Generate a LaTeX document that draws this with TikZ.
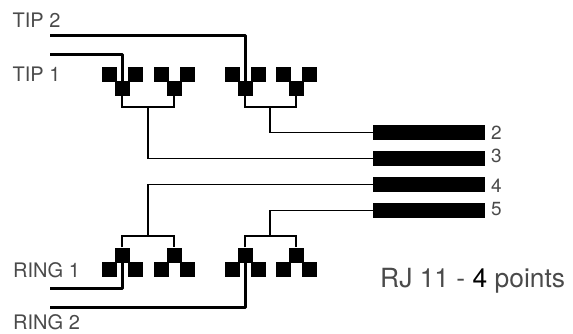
\documentclass[tikz,border=0pt]{standalone}
\usepackage{fontspec}
\setmainfont{TeX Gyre Heros}
\definecolor{txt}{HTML}{4A4A4A}
\tikzset{
  px/.style={x=1pt,y=-1pt},
  sq/.style={fill=black,inner sep=0pt,minimum size=15pt,draw=none},
  bar/.style={fill=black,inner sep=0pt,minimum width=112pt,minimum height=15pt,draw=none},
  thin wire/.style={line width=1.3pt,line join=miter},
  thick wire/.style={line width=3pt,line join=round},
  lab/.style={anchor=base west,inner sep=0pt,text=txt,font=\fontsize{20}{22}\selectfont},
  num/.style={anchor=base west,inner sep=0pt,text=txt,font=\fontsize{19}{22}\selectfont}
}
\begin{document}
\begin{tikzpicture}[px]
\useasboundingbox (0,0) rectangle (573,333);
% upper triads: name/apex x
\foreach \n/\x in {ta/122,tb/174,tc/245,td/296}{
  \node[sq] (\n L) at (\x-13,74) {};
  \node[sq] (\n R) at (\x+13,74) {};
  \node[sq] (\n C) at (\x,88) {};
}
% lower triads
\foreach \n/\x in {ra/122,rb/174,rc/245,rd/296}{
  \node[sq] (\n L) at (\x-13,269) {};
  \node[sq] (\n R) at (\x+13,269) {};
  \node[sq] (\n C) at (\x,255) {};
}
% contact bars
\node[bar] (b2) at (429,132.5) {};
\node[bar] (b3) at (429,158.5) {};
\node[bar] (b4) at (429,184.5) {};
\node[bar] (b5) at (429,210.5) {};
% free ends and junctions
\coordinate (tip2) at (50,35);
\coordinate (tip1) at (50,54.5);
\coordinate (ring1) at (50,288);
\coordinate (ring2) at (50,307);
\coordinate (j1) at (148,107);
\coordinate (j2) at (270,107);
\coordinate (j3) at (148,236);
\coordinate (j4) at (270,236);
% thin wiring
\draw[thin wire] (taC.south) |- (j1) -| (tbC.south);
\draw[thin wire] (tcC.south) |- (j2) -| (tdC.south);
\draw[thin wire] (j1) |- (b3.west);
\draw[thin wire] (j2) |- (b2.west);
\draw[thin wire] (raC.north) |- (j3) -| (rbC.north);
\draw[thin wire] (rcC.north) |- (j4) -| (rdC.north);
\draw[thin wire] (j3) |- (b4.west);
\draw[thin wire] (j4) |- (b5.west);
% thick wiring
\draw[thick wire] (tip2) -| (tcC.center);
\draw[thick wire] (tip1) -| (taC.center);
\draw[thick wire] (ring1) -| (raC.center);
\draw[thick wire] (ring2) -| (rcC.center);
% labels
\node[lab] (ltip2) at (12.5,27) {TIP 2};
\node[lab] (ltip1) at (12.5,81) {TIP 1};
\node[lab] (lring1) at (13,277.5) {RING 1};
\node[lab] (lring2) at (13,329.5) {RING 2};
\node[num] (n2) at (491,139) {2};
\node[num] (n3) at (491,162) {3};
\node[num] (n4) at (491,192) {4};
\node[num] (n5) at (491,215) {5};
\node[lab,font=\fontsize{26.4}{28}\selectfont] (title) at (380,287) {RJ 11 - \textcolor{black}{4} points};
\end{tikzpicture}
\end{document}
